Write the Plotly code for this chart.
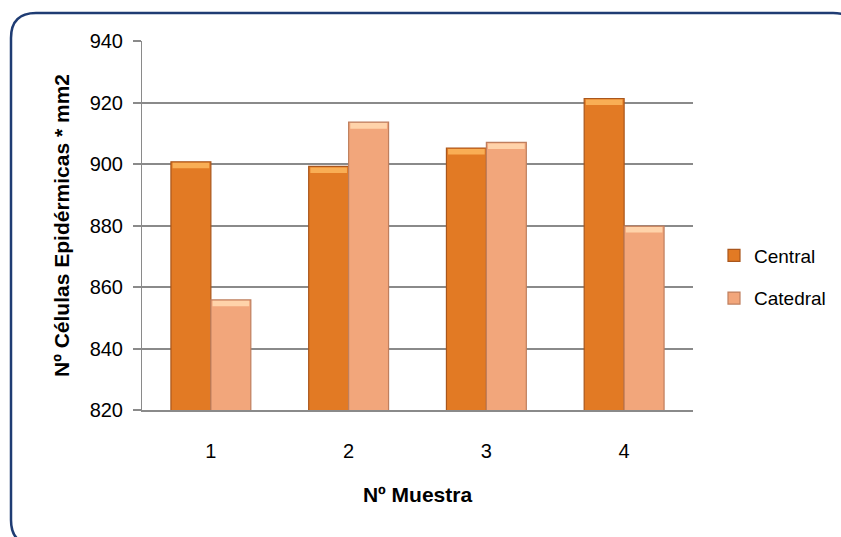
import plotly.graph_objects as go

# Epidermal cell counts per sample, two leaf zones
muestras = [1, 2, 3, 4]
muestra_labels = ["1", "2", "3", "4"]
central = [900.7, 899.2, 905.2, 921.3]
catedral = [855.8, 913.6, 907.0, 879.8]
y_ticks = [820, 840, 860, 880, 900, 920, 940]

W, H = 841, 537
ML, MR, MT, MB = 142, 148, 41, 127
PW, PH = W - ML - MR, H - MT - MB

GRID = "#8A8A8A"
FONT = "Liberation Sans, Arial, sans-serif"
BAR_W = 0.29
BEVEL = 1.8  # height of the lit top edge, in axis units


def px_x(x):
    return (x - ML) / PW


def px_y(y):
    return (H - MB - y) / PH


fig = go.Figure()
series = [
    ("Central", central, -BAR_W, "#E27A24", "#A9561C", "#F9AE55", "a"),
    ("Catedral", catedral, 0.0, "#F2A67B", "#BF7F5E", "#FFD3AA", "b"),
]
for name, vals, off, color, edge, light, grp in series:
    fig.add_trace(go.Bar(
        x=muestras, y=vals, name=name,
        offset=off, width=BAR_W,
        marker=dict(color=color, line=dict(color=edge, width=1.2)),
        legendgroup=grp,
    ))
    # lit bevel along the top of each bar
    fig.add_trace(go.Bar(
        x=muestras, y=[BEVEL] * len(vals), base=[v - BEVEL - 0.3 for v in vals],
        offset=off + 0.012, width=BAR_W - 0.024,
        marker=dict(color=light, line=dict(width=0)),
        showlegend=False, hoverinfo="skip", legendgroup=grp,
    ))

# rounded frame around the whole chart
x0, x1 = px_x(11), px_x(858)
y0, y1 = px_y(13), px_y(545)
rx, ry = 25 / PW, 25 / PH
frame = (
    f"M {x0 + rx},{y0} L {x1 - rx},{y0} Q {x1},{y0} {x1},{y0 - ry} "
    f"L {x1},{y1 + ry} Q {x1},{y1} {x1 - rx},{y1} "
    f"L {x0 + rx},{y1} Q {x0},{y1} {x0},{y1 + ry} "
    f"L {x0},{y0 - ry} Q {x0},{y0} {x0 + rx},{y0} Z"
)
fig.add_shape(type="path", path=frame, xref="paper", yref="paper",
              line=dict(color="#1F3C73", width=2.5), layer="above")

fig.update_layout(
    width=W, height=H,
    margin=dict(l=ML, r=MR, t=MT, b=MB, autoexpand=False),
    paper_bgcolor="white", plot_bgcolor="white",
    barmode="overlay",
    font=dict(family=FONT, color="#000000", size=20),
    showlegend=True,
    legend=dict(
        x=px_x(714), xanchor="left", y=px_y(277), yanchor="middle",
        font=dict(size=19, family=FONT), tracegroupgap=15,
        bgcolor="rgba(0,0,0,0)", itemwidth=30,
    ),
    xaxis=dict(
        range=[0.5, 4.5], tickvals=muestras, ticktext=muestra_labels,
        showline=True, linecolor=GRID, linewidth=2,
        showgrid=False, zeroline=False, ticks="",
        ticklabelstandoff=22,
        tickfont=dict(size=20),
        title=dict(text="<b>Nº Muestra</b>", font=dict(size=21), standoff=26),
    ),
    yaxis=dict(
        range=[820, 940], tickvals=y_ticks,
        showline=True, linecolor=GRID, linewidth=1,
        showgrid=True, gridcolor=GRID, gridwidth=1.6,
        zeroline=False, ticks="outside", ticklen=8, tickcolor=GRID, tickwidth=1.6,
        ticklabelstandoff=6,
        tickfont=dict(size=20),
        title=dict(text="<b>Nº Células Epidérmicas * mm2</b>", font=dict(size=21), standoff=14),
    ),
)

fig.write_html("out.html")
